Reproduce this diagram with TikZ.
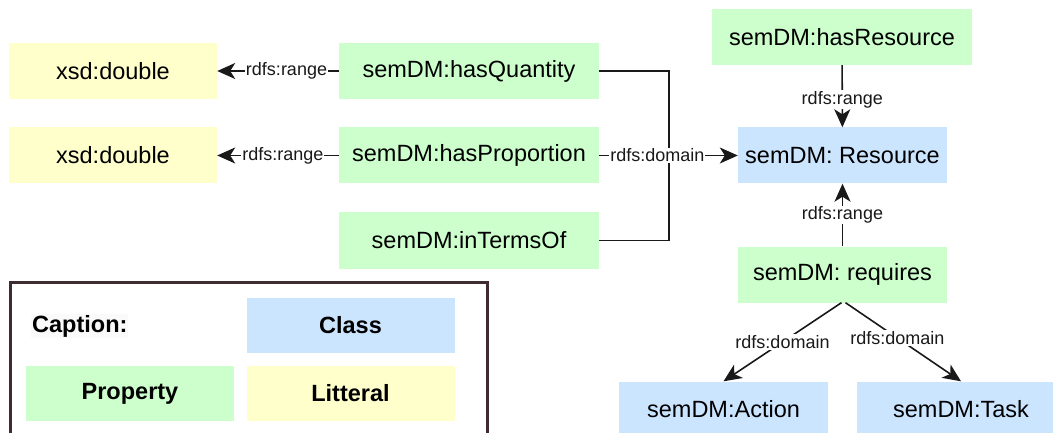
\documentclass[tikz,border=0pt]{standalone}
\usepackage{fontspec}
\setmainfont{Liberation Sans}
\usepackage{tikz}
\usetikzlibrary{arrows.meta,positioning}

\definecolor{propgreen}{RGB}{204,255,204}
\definecolor{classblue}{RGB}{204,229,255}
\definecolor{lityellow}{RGB}{255,255,204}
\definecolor{legendframe}{RGB}{62,44,48}

\begin{document}
\begin{tikzpicture}[x=1pt,y=-1pt,
    box/.style={inner sep=0pt, minimum height=56pt, align=center,
                font=\fontsize{23.5}{28}\selectfont},
    property/.style={box, fill=propgreen, minimum width=260pt},
    class/.style={box, fill=classblue, minimum width=209pt},
    litteral/.style={box, fill=lityellow, minimum width=208pt},
    lbl/.style={fill=white, inner sep=1pt, font=\fontsize{18}{21}\selectfont},
    link/.style={line width=1.6pt, black!90},
    arr/.style={link, -{Stealth[length=18pt,width=16pt,inset=5pt]}},
    legbox/.style={box, minimum width=208pt, minimum height=55pt,
                   font=\fontsize{23.5}{28}\selectfont\bfseries}]

    \useasboundingbox (0,0) rectangle (1053,433);

    % the literals
    \node[litteral] (dbl1) at (113,71)    {xsd:double};
    \node[litteral] (dbl2) at (113,155.5) {xsd:double};

    % the properties on the left
    \node[property] (hasQ) at (469,71)    {semDM:hasQuantity};
    \node[property] (hasP) at (469,155.5) {semDM:hasProportion};
    \node[property] (inTO) at (469,240.5) {semDM:inTermsOf};

    % the right part
    \node[property] (hasR) at (842,37)      {semDM:hasResource};
    \node[class]    (res)  at (842.5,155.5) {semDM: Resource};
    \node[property, minimum width=209pt] (req) at (842.5,274.5) {semDM: requires};
    \node[class]    (act)  at (723.5,409.5) {semDM:Action};
    \node[class]    (task) at (961,409.5)   {semDM:Task};

    % range arrows
    \draw[arr] (hasQ) -- node[lbl, pos=0.43] {rdfs:range} (dbl1);
    \draw[arr] (hasP) -- node[lbl, pos=0.46] {rdfs:range} (dbl2);
    \draw[arr] (hasR) -- node[lbl, pos=0.55] {rdfs:range} (res);
    \draw[arr] (req)  -- node[lbl] {rdfs:range} (res);

    % domain arrows
    % (the two outer ones join the middle one)
    \coordinate (jn) at (669,155.5);
    \draw[link] (hasQ.east) -| (jn);
    \draw[link] (inTO.east) -| (jn);
    \draw[arr] (hasP) -- node[lbl, pos=0.42] {rdfs:domain} (res);

    \draw[arr] ([xshift=-1pt]req.south) -- node[lbl] {rdfs:domain} (act.north);
    \draw[arr] ([xshift=3pt]req.south) -- node[lbl, pos=0.45] {rdfs:domain} (task.north);

    % caption
    \draw[legendframe, line width=3pt] (10,282) rectangle (487,455);
    \node[anchor=west, inner sep=1pt, fill=gray!4,
          font=\fontsize{23.5}{28}\selectfont\bfseries] (capt) at (31,326) {Caption:};
    \node[legbox, fill=classblue] (legC) at (350.5,325)   {Class};
    \node[legbox, fill=propgreen] (legP) at (130,393.5)   {Property};
    \node[legbox, fill=lityellow] (legL) at (350.5,393.5) {Litteral};
\end{tikzpicture}
\end{document}
